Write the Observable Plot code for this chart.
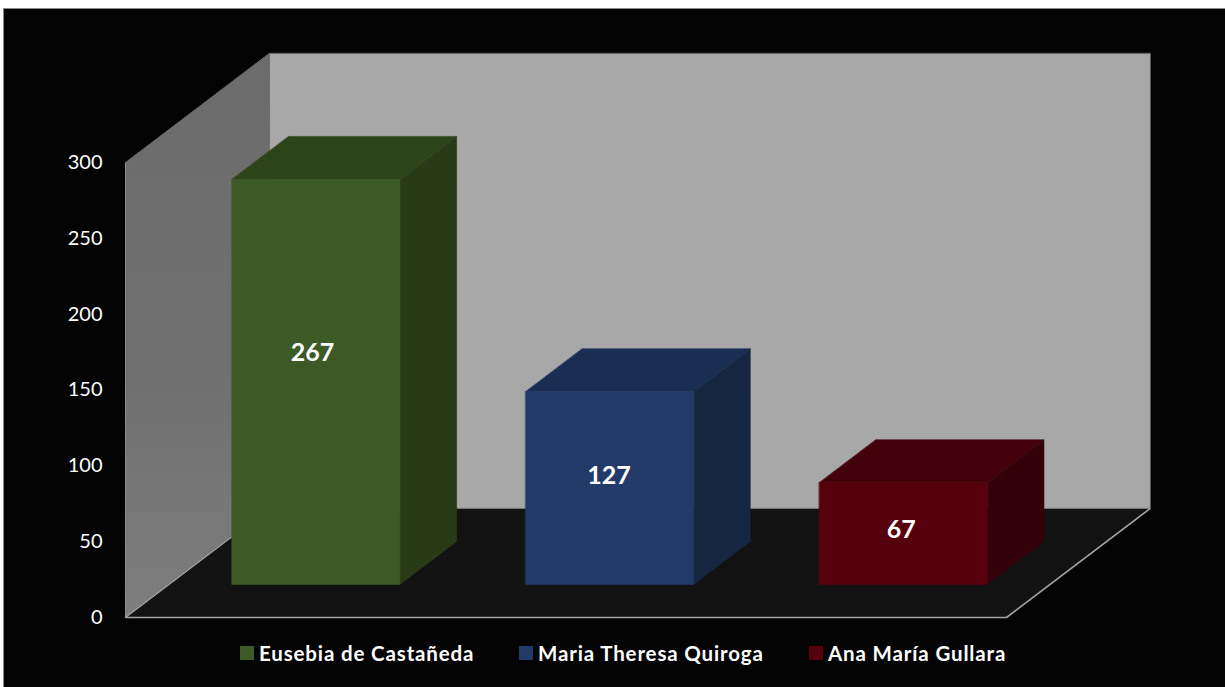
<!DOCTYPE html>
<html>
<head>
<meta charset="utf-8">
<script src="https://cdn.jsdelivr.net/npm/d3@7"></script>
<script src="https://cdn.jsdelivr.net/npm/@observablehq/plot@0.6"></script>
<style>
  html, body { margin: 0; padding: 0; background: #fff; overflow: hidden; }
  #frame { position: absolute; left: 3px; top: 8px; right: 0; bottom: 0; background: #030303;
           border-left: 1px solid #8a8a8a; border-top: 1px solid #8a8a8a; font-family: Lato, sans-serif; }
  #legend { position: relative; height: 40px; color: #fff; font-weight: 700; font-size: 20.5px; letter-spacing: 0.85px; }
  #legend .item { position: absolute; top: 9px; display: flex; align-items: center; white-space: nowrap; line-height: 20px; }
  #legend .sw { width: 14px; height: 14px; margin-right: 5px; }
</style>
</head>
<body>
<div id="frame"><div id="chart"></div><div id="legend"></div></div>
<script>
const names = ["Eusebia de Castañeda", "Maria Theresa Quiroga", "Ana María Gullara"];
const values = [267, 127, 67];
const yTicks = [0, 50, 100, 150, 200, 250, 300];
const frontColors = ["#3c5a25", "#213a68", "#56000e"];
const topColors = ["#2d4419", "#1a2d52", "#42000a"];
const sideColors = ["#283a16", "#162640", "#33000a"];

// Pseudo-3D: x in category units, y in value units, d = depth 0 (front) .. 1 (back wall)
const yMax = 300;
const depthX = 0.49, depthY = 72;
const barWidth = 0.572, depthNear = 0.303, depthFar = 0.697;
const labelX = [0.637, 1.646, 2.642];
const labelY = [174.5, 93.5, 58];
const P = (x, v, d = 0) => ({x: x + d * depthX, y: v + d * depthY});
const face = (pts, fill, extra = {}) =>
  Plot.line(pts, {x: "x", y: "y", fill, stroke: fill, strokeWidth: 0.6, curve: "linear-closed", ...extra});
const edge = (pts, stroke, strokeWidth) =>
  Plot.line(pts, {x: "x", y: "y", stroke, strokeWidth, strokeLinecap: "butt"});

const cats = names.length;
const barMarks = values.flatMap((v, i) => {
  const x0 = i + (1 - barWidth) / 2, x1 = x0 + barWidth;
  return [
    face([P(x1, 0, depthNear), P(x1, 0, depthFar), P(x1, v, depthFar), P(x1, v, depthNear)], sideColors[i]),
    face([P(x0, v, depthNear), P(x1, v, depthNear), P(x1, v, depthFar), P(x0, v, depthFar)], topColors[i]),
    face([P(x0, 0, depthNear), P(x1, 0, depthNear), P(x1, v, depthNear), P(x0, v, depthNear)], frontColors[i])
  ];
});

const gradient = () => {
  const defs = d3.create("svg:defs");
  const g = defs.append("linearGradient").attr("id", "wallShade").attr("x1", 0).attr("x2", 0).attr("y1", 0).attr("y2", 1);
  g.append("stop").attr("offset", "0%").attr("stop-color", "#6c6c6c");
  g.append("stop").attr("offset", "60%").attr("stop-color", "#707070");
  g.append("stop").attr("offset", "100%").attr("stop-color", "#7e7e7e");
  return defs.node();
};

const chart = Plot.plot({
  width: 1221, height: 625,
  marginLeft: 121, marginRight: 219, marginTop: 153, marginBottom: 17,
  style: {background: "transparent", color: "#fff", fontFamily: "Lato, sans-serif", fontSize: "20px"},
  x: {domain: [0, cats], axis: null},
  y: {domain: [0, yMax], axis: null},
  marks: [
    gradient,
    face([P(0, 0, 0), P(0, 0, 1), P(0, yMax, 1), P(0, yMax, 0)], "url(#wallShade)", {stroke: "none"}),
    face([P(0, 0, 1), P(cats, 0, 1), P(cats, yMax, 1), P(0, yMax, 1)], "#a8a8a8", {stroke: "none"}),
    face([P(0, 0, 0), P(cats, 0, 0), P(cats, 0, 1), P(0, 0, 1)], "#121212", {stroke: "none"}),
    edge([P(0, yMax, 1), P(cats, yMax, 1), P(cats, 0, 1)], "#5e5e5e", 1),
    edge([P(0, yMax, 0), P(0, yMax, 1), P(0, 0, 1)], "#707070", 0.8),
    edge([P(0, 0, 1), P(cats, 0, 1)], "#8f8f8f", 1),
    edge([P(0, yMax, 0), P(0, 0, 0)], "#8c8c8c", 1),
    edge([P(0, 0, 0), P(cats, 0, 0), P(cats, 0, 1)], "#a3a3a3", 1.6),
    edge([P(0, 0, 0), P(0, 0, 1)], "#a3a3a3", 1.2),
    ...barMarks,
    Plot.axisY(yTicks, {anchor: "left", tickSize: 0, tickPadding: 23, label: null, fontSize: 20, color: "#fff", fill: "#fff"}),
    Plot.text(values, {
      x: (d, i) => labelX[i], y: (d, i) => labelY[i], text: d => String(d),
      fill: "#fff", fontWeight: 700, fontSize: 25
    })
  ]
});
document.getElementById("chart").appendChild(chart);

const legendLeft = [236, 515, 805];
const legend = document.getElementById("legend");
names.forEach((n, i) => {
  const item = document.createElement("div");
  item.className = "item";
  item.style.left = legendLeft[i] + "px";
  const sw = document.createElement("span");
  sw.className = "sw";
  sw.style.background = frontColors[i];
  const t = document.createElement("span");
  t.textContent = n;
  item.append(sw, t);
  legend.append(item);
});
</script>
</body>
</html>
